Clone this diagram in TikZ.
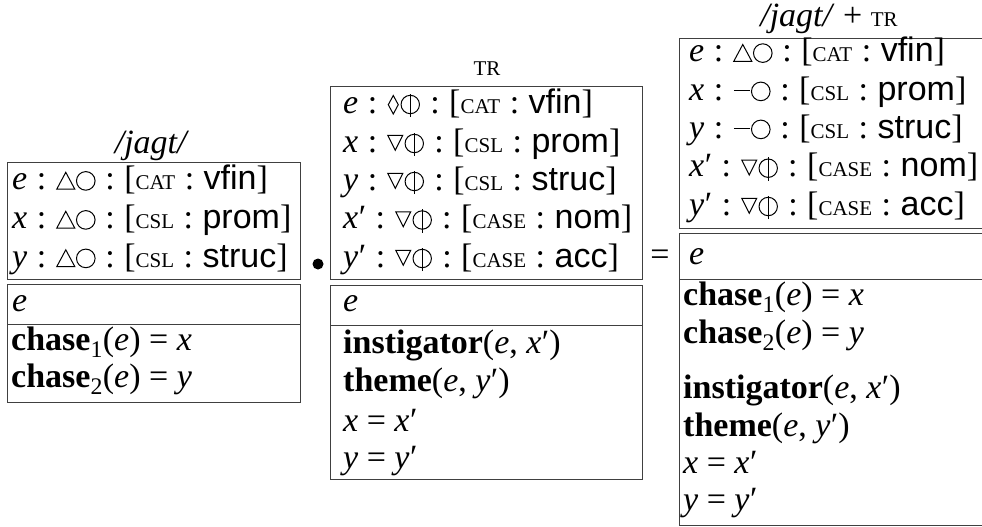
\documentclass[tikz,border=0pt]{standalone}
\usepackage{fontspec}
\setmainfont{Liberation Serif}
\setsansfont{Liberation Sans}
\newcommand{\cln}{\hspace{0.28em}:\hspace{0.28em}}
\newcommand{\scp}[1]{{\fontsize{21}{21}\selectfont #1}}
\newcommand{\sv}[1]{\textsf{#1}}
\newcommand{\vi}[1]{\textit{#1}}
\tikzset{symb/.style={baseline=0pt,x=1pt,y=1pt,line width=1pt}}
\newcommand{\symtri}{\tikz[symb]{\path (0,0) rectangle (20,1);\draw (1,0.4)--(19,0.4)--(10,17.2)--cycle;}}
\newcommand{\symcir}{\tikz[symb]{\path (0,0) rectangle (20,1);\draw (10,8.6) circle (9.3);}}
\newcommand{\symloz}{\tikz[symb]{\path (0,0) rectangle (13,1);\draw (6.5,-1)--(11.5,8.3)--(6.5,17.5)--(1.5,8.3)--cycle;}}
\newcommand{\symnab}{\tikz[symb]{\path (0,0) rectangle (17,1);\draw (1,16.7)--(16,16.7)--(8.5,1.7)--cycle;}}
\newcommand{\symobar}{\tikz[symb]{\path (0,0) rectangle (21,1);\draw (10.5,8.5) circle (9.2);\draw (10.5,-4)--(10.5,19.5);}}
\newcommand{\symmin}{\tikz[symb]{\path (0,0) rectangle (18,1);\draw (1,10)--(17,10);}}
\newcommand{\pr}{\kern0.5pt′}
\tikzset{
  box/.style={draw=black!75, line width=1pt},
  txt/.style={anchor=base west, inner sep=0pt, font=\fontsize{34}{38}\selectfont},
  ttl/.style={anchor=base, inner sep=0pt, font=\fontsize{34}{38}\selectfont},
}
\begin{document}
\begin{tikzpicture}[x=1pt,y=-1pt]
\useasboundingbox (0,0) rectangle (982,527);
% ---------- box 1 ----------
\node[ttl] (t1) at (152,153) {\vi{/jagt/}};
\draw[box] (7.5,162.5) rectangle (300,279);
\draw[box] (7.5,284) rectangle (300,402.5);
\draw[box] (7.5,324) -- (300,324);
\node[txt] (a1) at (12,189.5) {\vi{e}\cln\symtri\symcir\cln[\scp{CAT}\cln\sv{vfin}]};
\node[txt] (a2) at (12,228.5) {\vi{x}\cln\symtri\symcir\cln[\scp{CSL}\cln\sv{prom}]};
\node[txt] (a3) at (12,267) {\vi{y}\cln\symtri\symcir\cln[\scp{CSL}\cln\sv{struc}]};
\node[txt] (a4) at (12,311.5) {\vi{e}};
\node[txt] (a5) at (11,350) {\textbf{chase}\textsubscript{1}(\vi{e}) = \vi{x}};
\node[txt] (a6) at (11,387) {\textbf{chase}\textsubscript{2}(\vi{e}) = \vi{y}};
% bullet
\fill (318,264) circle (5.5);
% ---------- box 2 ----------
\node[ttl] (t2) at (487,75) {\scp{TR}};
\draw[box] (330,86) rectangle (642,279);
\draw[box] (330,285) rectangle (642,479);
\draw[box] (330,325) -- (642,325);
\node[txt] (b1) at (343,113) {\vi{e}\cln\symloz\symobar\cln[\scp{CAT}\cln\sv{vfin}]};
\node[txt] (b2) at (343,152) {\vi{x}\cln\symnab\symobar\cln[\scp{CSL}\cln\sv{prom}]};
\node[txt] (b3) at (343,190) {\vi{y}\cln\symnab\symobar\cln[\scp{CSL}\cln\sv{struc}]};
\node[txt] (b4) at (343,228.5) {\vi{x}\pr\cln\symnab\symobar\cln[\scp{CASE}\cln\sv{nom}]};
\node[txt] (b5) at (343,267) {\vi{y}\pr\cln\symnab\symobar\cln[\scp{CASE}\cln\sv{acc}]};
\node[txt] (b6) at (343,311) {\vi{e}};
\node[txt] (b7) at (343,353) {\textbf{instigator}(\vi{e}, \vi{x}\pr)};
\node[txt] (b8) at (343,391.5) {\textbf{theme}(\vi{e}, \vi{y}\pr)};
\node[txt] (b9) at (343,431) {\vi{x} = \vi{x}\pr};
\node[txt] (b10) at (343,468) {\vi{y} = \vi{y}\pr};
% equals
\node[inner sep=0pt, font=\fontsize{34}{38}\selectfont] (eq) at (660,257.5) {=};
% ---------- box 3 ----------
\node[ttl] (t3) at (829,26.7) {\vi{/jagt/} + \scp{TR}};
\draw[box] (679,39) rectangle (992,228);
\draw[box] (679,233) rectangle (992,525);
\draw[box] (679,279) -- (992,279);
\node[txt] (c1) at (689,61.7) {\vi{e}\cln\symtri\symcir\cln[\scp{CAT}\cln\sv{vfin}]};
\node[txt] (c2) at (689,100) {\vi{x}\cln\symmin\symcir\cln[\scp{CSL}\cln\sv{prom}]};
\node[txt] (c3) at (689,138) {\vi{y}\cln\symmin\symcir\cln[\scp{CSL}\cln\sv{struc}]};
\node[txt] (c4) at (689,176.7) {\vi{x}\pr\cln\symnab\symobar\cln[\scp{CASE}\cln\sv{nom}]};
\node[txt] (c5) at (689,215) {\vi{y}\pr\cln\symnab\symobar\cln[\scp{CASE}\cln\sv{acc}]};
\node[txt] (c6) at (689,264) {\vi{e}};
\node[txt] (c7) at (683,305) {\textbf{chase}\textsubscript{1}(\vi{e}) = \vi{x}};
\node[txt] (c8) at (683,343) {\textbf{chase}\textsubscript{2}(\vi{e}) = \vi{y}};
\node[txt] (c9) at (683,398) {\textbf{instigator}(\vi{e}, \vi{x}\pr)};
\node[txt] (c10) at (683,436) {\textbf{theme}(\vi{e}, \vi{y}\pr)};
\node[txt] (c11) at (683,473) {\vi{x} = \vi{x}\pr};
\node[txt] (c12) at (683,510) {\vi{y} = \vi{y}\pr};
\end{tikzpicture}
\end{document}
